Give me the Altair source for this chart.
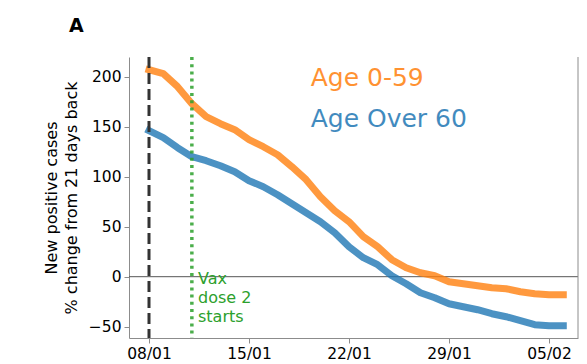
import altair as alt
import pandas as pd

dates = pd.date_range("2021-01-08", "2021-02-06", freq="D").strftime("%Y-%m-%dT00:00:00").tolist()
age_0_59 = [207, 203, 190, 173, 160, 153, 147, 137, 130, 122, 110, 97, 80, 66, 55,
            40, 30, 17, 9, 4, 1, -5, -7, -9, -11, -12, -15, -17, -18, -18]
age_over_60 = [146, 139, 129, 120, 116, 111, 105, 96, 90, 82, 73, 64, 55, 44, 30,
               19, 12, 1, -7, -16, -21, -27, -30, -33, -37, -40, -44, -48, -49, -49]
tick_dates = ["2021-01-08", "2021-01-15", "2021-01-22", "2021-01-29", "2021-02-05"]
y_ticks = [-50, 0, 50, 100, 150, 200]
lockdown_date = ["2021-01-08T00:00:00"]
vax_date = ["2021-01-11T00:00:00"]

W, H = 449, 281
ORANGE = "#ff7f0e"
BLUE = "#1f77b4"
GREEN = "#2ca02c"
SPINE = "#8c8c8c"
FONT = "DejaVu Sans"

df_o = pd.DataFrame({"date": dates, "value": age_0_59})
df_b = pd.DataFrame({"date": dates, "value": age_over_60})


def dt(s):
    d = pd.Timestamp(s)
    return alt.DateTime(year=d.year, month=d.month, date=d.day, hours=d.hour, minutes=d.minute)


x_scale = alt.Scale(domain=[dt("2021-01-06 14:24"), dt("2021-02-07 00:43")], nice=False)
y_scale = alt.Scale(domain=[-61.3, 219.7], nice=False, zero=False)

x_enc = alt.X("date:T", scale=x_scale, title=None,
              axis=alt.Axis(values=[dt(t) for t in tick_dates], format="%d/%m",
                            grid=False, tickSize=5, labelPadding=3))
y_enc = alt.Y("value:Q", scale=y_scale,
              title=["New positive cases", "% change from 21 days back"],
              axis=alt.Axis(values=y_ticks, grid=False, tickSize=5, labelPadding=3,
                            titlePadding=9))

zero = alt.Chart(pd.DataFrame({"y": [0]})).mark_rule(color="#555555", strokeWidth=1).encode(
    y=alt.Y("y:Q", scale=y_scale))

blue_line = alt.Chart(df_b).mark_line(color=BLUE, strokeWidth=7, opacity=0.8,
                                      strokeCap="square", strokeJoin="round").encode(x=x_enc, y=y_enc)
orange_line = alt.Chart(df_o).mark_line(color=ORANGE, strokeWidth=7, opacity=0.8,
                                        strokeCap="square", strokeJoin="round").encode(x=x_enc, y=y_enc)

dash_rule = alt.Chart(pd.DataFrame({"d": lockdown_date})).mark_rule(
    color="#333333", strokeWidth=3, strokeDash=[11, 5]).encode(
    x=alt.X("d:T", scale=x_scale))
vax_rule = alt.Chart(pd.DataFrame({"d": vax_date})).mark_rule(
    color=GREEN, strokeWidth=3.5, strokeDash=[3, 4.2], opacity=0.85).encode(
    x=alt.X("d:T", scale=x_scale))

right_spine = alt.Chart(pd.DataFrame({"a": [0]})).mark_rule(color=SPINE, strokeWidth=1).encode(
    x=alt.value(W), y=alt.value(0), y2=alt.value(H))

label_o = alt.Chart(pd.DataFrame({"t": ["Age 0-59"]})).mark_text(
    align="left", baseline="alphabetic", fontSize=25, font=FONT, color=ORANGE, opacity=0.85).encode(
    text="t:N", x=alt.value(181.7), y=alt.value(29))
label_b = alt.Chart(pd.DataFrame({"t": ["Age Over 60"]})).mark_text(
    align="left", baseline="alphabetic", fontSize=25, font=FONT, color=BLUE, opacity=0.85).encode(
    text="t:N", x=alt.value(181.7), y=alt.value(70))

vax_text = alt.Chart(pd.DataFrame({"t": ["Vax\ndose 2\nstarts"]})).mark_text(
    align="left", baseline="alphabetic", fontSize=16, font=FONT, color=GREEN,
    lineBreak="\n", lineHeight=19).encode(
    text="t:N", x=alt.value(69), y=alt.value(227))

panel_label = alt.Chart(pd.DataFrame({"t": ["A"]})).mark_text(
    align="left", baseline="alphabetic", fontSize=19, fontWeight="bold", font=FONT, color="black").encode(
    text="t:N", x=alt.value(-60), y=alt.value(-25))

chart = alt.layer(
    zero, blue_line, orange_line, dash_rule, vax_rule, right_spine,
    label_o, label_b, vax_text, panel_label
).properties(
    width=W, height=H,
    autosize=alt.AutoSizeParams(type="none"),
    padding={"left": 121, "top": 49, "right": 1, "bottom": 26},
).configure_view(stroke="transparent").configure_axis(
    labelFont=FONT, titleFont=FONT, labelFontSize=15.5, titleFontSize=16,
    titleFontWeight="normal", labelColor="black", titleColor="black",
    domainColor=SPINE, tickColor=SPINE, domainWidth=1, tickWidth=1,
    titleLineHeight=20,
)

chart.save("out.html", embed_options={"renderer": "svg", "actions": False})
